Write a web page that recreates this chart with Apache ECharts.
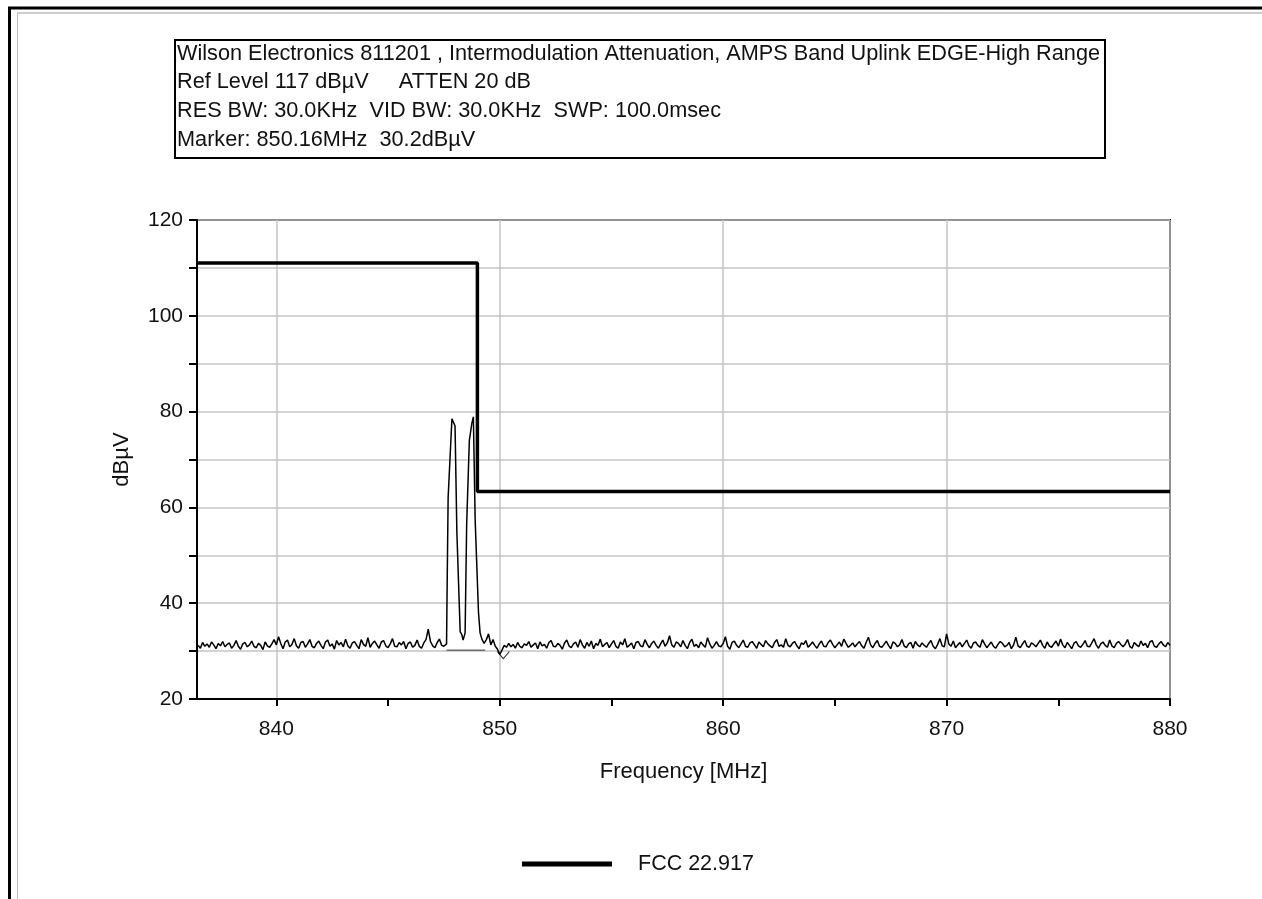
<!DOCTYPE html>
<html>
<head>
<meta charset="utf-8">
<script src="https://cdn.jsdelivr.net/npm/echarts@6/dist/echarts.min.js"></script>
<style>
html,body{margin:0;padding:0;background:#fff;}
#chart{width:1262px;height:899px;}
</style>
</head>
<body>
<div id="chart"></div>
<script>
// ---- data ----
const titleLines = [
  'Wilson Electronics 811201 , Intermodulation Attenuation, AMPS Band Uplink EDGE-High Range',
  'Ref Level 117 dB\u00b5V     ATTEN 20 dB',
  'RES BW: 30.0KHz  VID BW: 30.0KHz  SWP: 100.0msec',
  'Marker: 850.16MHz  30.2dB\u00b5V'
];
const xAxisName = 'Frequency [MHz]';
const yAxisName = 'dB\u00b5V';
const xLabelValues = [840, 850, 860, 870, 880];
const xTickValues = [840, 845, 850, 855, 860, 865, 870, 875, 880];
const limitName = 'FCC 22.917';
const limitFreq = [836.45, 849, 849, 880];
const limitLevel = [111, 111, 63.3, 63.3];

// measured trace, left part: 836.5 .. 847.5 MHz, 0.1 MHz per sample
const noiseLeftStart = 836.5;
const noiseLeft = [
  31.2, 30.6, 31.8, 31.0, 31.5,
  30.8, 31.9, 31.3, 30.5, 31.6, 31.1, 32.0, 30.9, 31.4, 31.7,
  30.6, 31.2, 32.2, 31.0, 30.4, 31.5, 31.8, 30.9, 31.3, 32.1,
  31.0, 30.7, 31.6, 31.2, 30.3, 31.9, 31.1, 30.8, 31.5, 32.4,
  31.3, 33.0, 31.6, 30.5, 31.9, 32.3, 30.9, 31.4, 32.6, 31.1,
  30.6, 31.8, 32.0, 30.8, 31.5, 32.4, 31.0, 30.7, 31.6, 32.1,
  31.2, 30.5, 31.9, 32.3, 31.0, 31.5, 30.4, 32.2, 31.3, 31.8,
  30.9, 32.5, 31.1, 30.6, 31.7, 32.0, 31.2, 30.5, 32.4, 31.4,
  31.0, 32.8, 30.8, 31.6, 32.1, 31.3, 30.6, 31.9, 32.2, 31.1,
  30.7, 31.5, 32.6, 31.0, 30.9, 31.8, 31.3, 32.0, 30.5, 31.6,
  31.9, 30.8, 31.2, 32.3, 31.0, 30.6, 31.7, 32.4, 34.6, 32.0,
  31.1, 30.7, 31.8, 32.5, 31.2, 31.0
];
// the two intermodulation peaks
const peakFreq  = [847.62, 847.64, 847.69, 847.86, 847.92, 848.00, 848.08, 848.23, 848.30, 848.36, 848.45, 848.52, 848.64, 848.75, 848.82, 848.90, 849.05, 849.12];
const peakLevel = [31.5,   41.0,   62.0,   78.5,   78.6,   77.0,   55.0,   34.0,   33.5,   32.3,   33.8,   56.5,   74.0,   77.5,   78.9,   57.4,   38.0,   33.8];
// measured trace, right part: 849.2 .. 880.0 MHz, 0.1 MHz per sample
const noiseRightStart = 849.2;
const noiseRight = [
  32.5, 31.6, 32.4, 33.6, 31.3, 32.4, 31.0, 30.4,
  29.3, 30.2, 31.2, 30.8, 31.6, 30.9, 31.4, 30.6, 31.8, 31.0,
  30.7, 31.5, 31.2, 32.0, 30.8, 31.3, 31.7, 30.5, 31.9, 31.1,
  31.4, 30.6, 31.8, 32.2, 31.0, 30.9, 31.6, 31.2, 30.4, 31.7,
  32.3, 31.1, 30.7, 31.5, 31.9, 30.8, 32.4, 31.3, 30.6, 31.8,
  31.0, 32.1, 30.5, 31.6, 31.2, 32.5, 30.9, 31.4, 31.8, 30.7,
  31.5, 32.2, 31.0, 30.6, 31.9, 31.3, 32.6, 30.8, 31.2, 31.7,
  30.5, 31.8, 32.0, 31.1, 30.9, 32.4, 31.4, 30.7, 31.6, 32.1,
  31.2, 30.6, 31.5, 32.3, 31.0, 31.7, 33.2, 31.3, 30.8, 31.9,
  31.6, 30.9, 32.2, 31.2, 30.5, 31.8, 32.5, 31.0, 31.4, 30.7,
  31.9, 31.3, 30.8, 32.8, 31.5, 30.6, 31.2, 32.0, 31.1, 30.9,
  31.6, 33.0, 31.0, 30.4, 31.8, 32.1, 31.2, 30.7, 31.5, 32.3,
  31.0, 30.8, 31.7, 32.0, 31.3, 30.6, 31.9, 31.4, 30.9, 32.2,
  31.5, 31.1, 30.7, 31.8, 32.4, 31.0, 31.3, 30.8, 32.6, 31.2,
  30.9, 31.6, 32.0, 31.1, 30.5, 31.7, 31.4, 32.2, 30.8, 31.3,
  31.9, 31.2, 30.6, 31.5, 32.1, 31.0, 30.9, 31.8, 32.3, 31.4,
  30.7, 31.3, 31.9, 31.0, 32.5, 31.6, 30.8, 31.2, 31.7, 30.9,
  31.5, 32.0, 31.1, 30.6, 31.8, 32.9, 31.3, 30.7, 31.6, 32.2,
  31.0, 30.8, 31.4, 32.1, 31.2, 30.5, 31.9, 31.6, 30.9, 31.3,
  32.4, 31.1, 30.7, 31.5, 31.8, 30.6, 32.0, 31.3, 30.9, 31.7,
  31.2, 30.8, 31.6, 32.2, 31.0, 30.5, 31.4, 32.6, 31.1, 30.9,
  33.6, 31.5, 31.0, 32.1, 30.7, 31.3, 31.8, 30.9, 31.6, 32.3,
  31.1, 30.6, 31.7, 31.9, 31.2, 30.8, 32.4, 31.5, 30.7, 31.3,
  31.9, 31.0, 30.6, 31.4, 32.0, 31.6, 30.9, 31.2, 31.8, 30.5,
  31.3, 32.9, 31.1, 30.7, 31.5, 32.2, 31.0, 30.8, 31.7, 31.4,
  30.9, 31.6, 32.3, 31.2, 30.6, 31.9, 31.1, 30.8, 31.5, 32.1,
  31.0, 32.5, 31.3, 30.7, 31.8, 31.2, 30.5, 31.6, 32.0, 31.1,
  30.8, 31.4, 32.2, 31.0, 30.9, 31.7, 32.6, 31.3, 30.6, 31.5,
  31.9, 31.2, 30.8, 32.3, 31.1, 30.7, 31.6, 32.0, 31.4, 30.9,
  31.5, 32.4, 31.0, 30.6, 31.8, 31.3, 30.9, 32.1, 31.2, 31.6,
  30.7, 31.9, 32.2, 31.0, 30.8, 31.5, 32.0, 31.3, 30.9, 31.8,
  31.2
];
const noiseStep = 0.1;
const floorFreq = [847.62, 849.35];
const floorLevel = [30.2, 30.2];
const markerFreq = 850.16;
const markerLevel = 30.2;

// ---- build ----
const trace = [];
noiseLeft.forEach((v, i) => trace.push([+(noiseLeftStart + i * noiseStep).toFixed(2), v]));
peakFreq.forEach((f, i) => trace.push([f, peakLevel[i]]));
noiseRight.forEach((v, i) => trace.push([+(noiseRightStart + i * noiseStep).toFixed(2), v]));
const limitData = limitFreq.map((f, i) => [f, limitLevel[i]]);
const floorData = floorFreq.map((f, i) => [f, floorLevel[i]]);

const FONT = "'Liberation Sans', Arial, Helvetica, sans-serif";
const chart = echarts.init(document.getElementById('chart'), null, {renderer: 'canvas'});

const graphics = [
  // page frame
  {type: 'line', shape: {x1: 8, y1: 8, x2: 1262, y2: 8}, style: {stroke: '#000', lineWidth: 3}, silent: true},
  {type: 'line', shape: {x1: 9.5, y1: 7, x2: 9.5, y2: 899}, style: {stroke: '#000', lineWidth: 3}, silent: true},
  {type: 'line', shape: {x1: 17, y1: 13, x2: 1262, y2: 13}, style: {stroke: '#999', lineWidth: 1}, silent: true},
  {type: 'line', shape: {x1: 17.5, y1: 13, x2: 17.5, y2: 899}, style: {stroke: '#bbb', lineWidth: 1}, silent: true},
  // header box
  {type: 'rect', shape: {x: 175, y: 40, width: 930, height: 118}, style: {fill: '#fff', stroke: '#000', lineWidth: 2}, silent: true}
];
const lineY = [54.5, 82.5, 111.5, 140.5];
titleLines.forEach((t, i) => graphics.push({
  type: 'text', x: 177, y: lineY[i], silent: true,
  style: {text: t, font: '21.7px ' + FONT, fill: '#111', verticalAlign: 'middle', align: 'left'}
}));

const xCommon = {type: 'value', min: 836.45, max: 880, position: 'bottom', offset: 0};

chart.setOption({
  animation: false,
  backgroundColor: '#fff',
  grid: {left: 197, right: 92, top: 220, bottom: 200, show: true, borderColor: '#000', borderWidth: 2, containLabel: false},
  legend: {
    data: [limitName], left: 517, top: 848, itemWidth: 90, itemHeight: 5, icon: 'rect',
    itemStyle: {color: '#000'},
    textStyle: {fontFamily: FONT, fontSize: 21.5, color: '#111', padding: [0, 0, 0, 21]},
    selectedMode: false
  },
  xAxis: [
    Object.assign({}, xCommon, {
      name: xAxisName, nameLocation: 'middle', nameGap: 62,
      nameTextStyle: {fontFamily: FONT, fontSize: 22, color: '#111'},
      axisLine: {show: true, onZero: false, lineStyle: {color: '#000', width: 2}},
      axisTick: {show: true, inside: false, length: 7, customValues: xLabelValues, lineStyle: {color: '#000', width: 2}},
      axisLabel: {customValues: xLabelValues, margin: 20, fontFamily: FONT, fontSize: 21, color: '#111'},
      splitLine: {show: true, lineStyle: {color: '#c4c4c4', width: 1.5}}
    }),
    Object.assign({}, xCommon, {
      axisLine: {show: false},
      axisTick: {show: true, inside: false, length: 7, customValues: xTickValues, lineStyle: {color: '#000', width: 2}},
      axisLabel: {show: false},
      splitLine: {show: false}
    })
  ],
  yAxis: {
    type: 'value', min: 20, max: 120, interval: 10,
    name: yAxisName, nameLocation: 'middle', nameGap: 64, nameRotate: 90,
    nameTextStyle: {fontFamily: FONT, fontSize: 22, color: '#111'},
    axisLine: {show: true, onZero: false, lineStyle: {color: '#000', width: 2}},
    axisTick: {show: true, inside: false, length: 8, lineStyle: {color: '#000', width: 2}},
    axisLabel: {margin: 14, fontFamily: FONT, fontSize: 21, color: '#111',
      formatter: v => (v % 20 === 0 ? String(v) : '')},
    splitLine: {show: true, lineStyle: {color: '#c4c4c4', width: 1.5}}
  },
  series: [
    {
      name: 'trace', type: 'line', data: trace, symbol: 'none', silent: true,
      lineStyle: {color: '#000', width: 1.5}, z: 3
    },
    {
      name: 'floor', type: 'line', data: floorData, symbol: 'none', silent: true,
      lineStyle: {color: '#333', width: 1}, z: 3
    },
    {
      name: 'marker', type: 'scatter', data: [[markerFreq, markerLevel]], silent: true,
      symbol: 'path://M0 0L6 7L12 0', symbolSize: [12, 7], symbolOffset: [0, 5],
      itemStyle: {color: 'none', borderColor: '#000', borderWidth: 1}, z: 4
    },
    {
      name: limitName, type: 'line', data: limitData, symbol: 'none', silent: true,
      lineStyle: {color: '#000', width: 3.5}, itemStyle: {color: '#000'}, z: 5
    }
  ],
  graphic: graphics
});
</script>
</body>
</html>
